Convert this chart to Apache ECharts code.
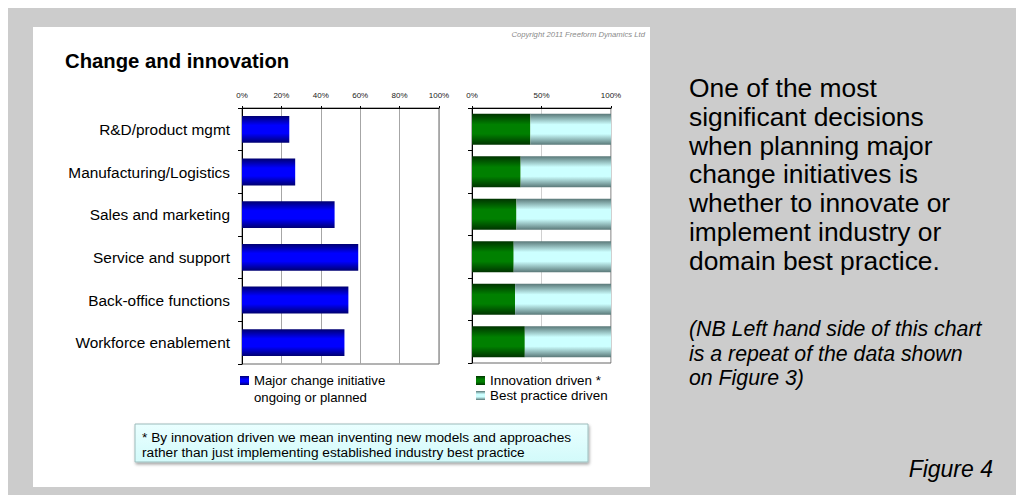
<!DOCTYPE html>
<html>
<head>
<meta charset="utf-8">
<script src="https://cdn.jsdelivr.net/npm/echarts@6/dist/echarts.min.js"></script>
<style>
html,body{margin:0;padding:0;background:#fff;}
#c{width:1016px;height:495px;}
</style>
</head>
<body>
<div id="c"></div>
<script>
const categories = ['R&D/product mgmt','Manufacturing/Logistics','Sales and marketing','Service and support','Back-office functions','Workforce enablement'];
const majorChange = [24, 27, 47, 59, 54, 52];
const innovationDriven = [42, 35, 32, 30, 31, 38];
const bestPracticeDriven = [58, 65, 68, 70, 69, 62];
const leftTicks = [0, 20, 40, 60, 80, 100];
const rightTicks = [0, 50, 100];

const FONT = 'Arial, "Liberation Sans", sans-serif';
function vgrad(edge, mid) {
  return new echarts.graphic.LinearGradient(0, 0, 0, 1, [
    {offset: 0, color: edge}, {offset: 0.35, color: mid},
    {offset: 0.65, color: mid}, {offset: 1, color: edge}
  ]);
}

const chart = echarts.init(document.getElementById('c'), null, {renderer: 'svg'});

function valueAxis(gi, ticks, splitColor) {
  const step = ticks[1] - ticks[0];
  return {
    gridIndex: gi, type: 'value', position: 'top',
    min: ticks[0], max: ticks[ticks.length - 1], interval: step,
    axisLine: {show: true, lineStyle: {color: '#000', width: 1}},
    axisTick: {show: true, length: 2, lineStyle: {color: '#000'}},
    axisLabel: {formatter: '{value}%', fontSize: 8, margin: 9, color: '#222', fontFamily: FONT},
    splitLine: {show: true, lineStyle: {color: splitColor, width: 1}}
  };
}
function catAxis(gi, showLabels) {
  return {
    gridIndex: gi, type: 'category', inverse: true, data: categories,
    axisLine: {show: true, lineStyle: {color: '#000', width: 1}},
    axisTick: {show: true, length: 4, lineStyle: {color: '#000'}},
    axisLabel: {show: showLabels, fontSize: 15.4, color: '#000', margin: 12, fontFamily: FONT}
  };
}

chart.setOption({
  backgroundColor: '#fff',
  animation: false,
  textStyle: {fontFamily: FONT},
  grid: [
    {left: 242, top: 108, width: 197, height: 256, show: true, borderColor: '#666', borderWidth: 1, backgroundColor: 'transparent'},
    {left: 472, top: 108, width: 139, height: 255, show: true, borderColor: '#666', borderWidth: 1, backgroundColor: 'transparent'}
  ],
  xAxis: [valueAxis(0, leftTicks, '#a6a6a6'), valueAxis(1, rightTicks, '#d0d0d0')],
  yAxis: [catAxis(0, true), catAxis(1, false)],
  legend: [
    {
      data: ['Major change initiative ongoing or planned'],
      left: 240, top: 374, itemWidth: 9, itemHeight: 9, itemGap: 2, padding: 0,
      icon: 'rect',
      formatter: function () { return 'Major change initiative'; },
      textStyle: {fontSize: 13.2, color: '#000', fontFamily: FONT}
    },
    {
      data: ['Innovation driven *', 'Best practice driven'],
      orient: 'vertical', left: 476, top: 374, itemWidth: 9, itemHeight: 9, itemGap: 2, padding: 0,
      icon: 'rect',
      textStyle: {fontSize: 13.4, color: '#000', fontFamily: FONT}
    }
  ],
  series: [
    {
      name: 'Major change initiative ongoing or planned', type: 'bar',
      xAxisIndex: 0, yAxisIndex: 0, data: majorChange, barCategoryGap: '37%',
      itemStyle: {color: vgrad('#000070', '#0000ff')}
    },
    {
      name: 'Innovation driven *', type: 'bar', stack: 'r',
      xAxisIndex: 1, yAxisIndex: 1, data: innovationDriven, barCategoryGap: '27%',
      itemStyle: {color: vgrad('#003300', '#008000')}
    },
    {
      name: 'Best practice driven', type: 'bar', stack: 'r',
      xAxisIndex: 1, yAxisIndex: 1, data: bestPracticeDriven, barCategoryGap: '27%',
      itemStyle: {color: vgrad('#5a7878', '#ccffff')}
    }
  ],
  graphic: [
    {type: 'rect', z: -100, silent: true, shape: {x: 8, y: 8, width: 1008, height: 487}, style: {fill: '#cccccc'}},
    {type: 'rect', z: -99, silent: true, shape: {x: 33, y: 27, width: 617, height: 460}, style: {fill: '#ffffff'}},
    {type: 'text', z: 10, x: 645, y: 34, style: {text: 'Copyright 2011 Freeform Dynamics Ltd', font: 'italic 7.7px ' + FONT, fill: '#8a8a8a', align: 'right', verticalAlign: 'middle'}},
    {type: 'text', z: 10, x: 65, y: 61, style: {text: 'Change and innovation', font: 'bold 20.3px ' + FONT, fill: '#000', align: 'left', verticalAlign: 'middle'}},
    {type: 'text', z: 10, x: 254, y: 397, style: {text: 'ongoing or planned', font: '13.2px ' + FONT, fill: '#000', align: 'left', verticalAlign: 'middle'}},
    {type: 'rect', z: 5, shape: {x: 135, y: 424, width: 453, height: 38},
      style: {
        fill: new echarts.graphic.LinearGradient(0, 0, 0, 1, [{offset: 0, color: '#eaffff'}, {offset: 1, color: '#d2fafa'}]),
        stroke: '#9cbcbc', lineWidth: 1,
        shadowBlur: 3, shadowOffsetX: 1, shadowOffsetY: 2, shadowColor: 'rgba(0,0,0,0.35)'
      }},
    {type: 'text', z: 10, x: 142, y: 437, style: {text: '* By innovation driven we mean inventing new models and approaches', font: '13.7px ' + FONT, fill: '#000', align: 'left', verticalAlign: 'middle'}},
    {type: 'text', z: 10, x: 142, y: 452, style: {text: 'rather than just implementing established industry best practice', font: '13.7px ' + FONT, fill: '#000', align: 'left', verticalAlign: 'middle'}},
    {type: 'text', z: 10, x: 689, y: 73.6, style: {
      text: 'One of the most\nsignificant decisions\nwhen planning major\nchange initiatives is\nwhether to innovate or\nimplement industry or\ndomain best practice.',
      font: '26.4px ' + FONT, lineHeight: 28.8, fill: '#000', align: 'left', verticalAlign: 'top'}},
    {type: 'text', z: 10, x: 689, y: 316.8, style: {
      text: '(NB Left hand side of this chart\nis a repeat of the data shown\non Figure 3)',
      font: 'italic 21.3px ' + FONT, lineHeight: 24.5, fill: '#000', align: 'left', verticalAlign: 'top'}},
    {type: 'text', z: 10, x: 993, y: 469, style: {text: 'Figure 4', font: 'italic 23px ' + FONT, fill: '#000', align: 'right', verticalAlign: 'middle'}}
  ]
});
</script>
</body>
</html>
